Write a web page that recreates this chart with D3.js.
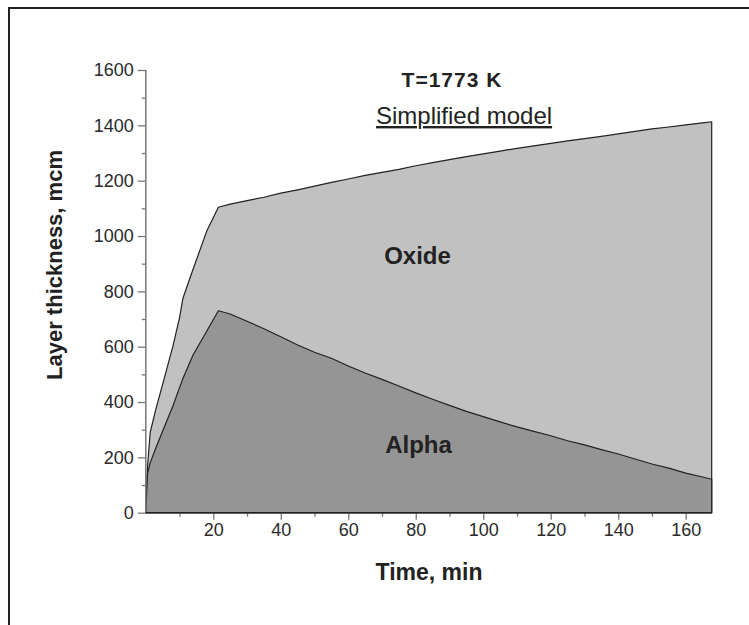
<!DOCTYPE html>
<html>
<head>
<meta charset="utf-8">
<script src="https://cdn.jsdelivr.net/npm/d3@7"></script>
<style>
  html, body { margin: 0; padding: 0; background: #fff; }
  svg { display: block; font-family: "Liberation Sans", Arial, sans-serif; }
</style>
</head>
<body>
<svg id="chart" width="749" height="625"></svg>
<script>
// ---- data ----
const timeMin = [0, 0.5, 1.3, 3, 5, 8, 10, 11, 14, 18, 21.5, 25, 30, 35, 40, 45, 50, 55, 60, 65, 70, 75, 80, 85, 90, 95, 100, 105, 110, 115, 120, 125, 130, 135, 140, 145, 150, 155, 160, 165, 167.7];
const totalThickness = [0, 165, 290, 375, 465, 600, 705, 775, 880, 1016, 1104, 1115, 1128, 1140, 1155, 1167, 1180, 1194, 1206, 1219, 1230, 1241, 1254, 1265, 1276, 1287, 1297, 1307, 1317, 1326, 1335, 1344, 1352, 1360, 1369, 1378, 1387, 1394, 1402, 1409, 1413];
const alphaThickness = [0, 140, 180, 235, 295, 385, 452, 485, 570, 655, 730, 718, 692, 665, 636, 606, 580, 558, 530, 505, 482, 458, 433, 410, 388, 366, 347, 328, 310, 294, 278, 260, 245, 228, 212, 194, 176, 161, 143, 129, 121];
const xTicks = [20, 40, 60, 80, 100, 120, 140, 160];
const yTicks = [0, 200, 400, 600, 800, 1000, 1200, 1400, 1600];
const titleText = "T=1773 K";
const subtitleText = "Simplified model";
const regionLabels = ["Oxide", "Alpha"];
const xLabel = "Time, min";
const yLabel = "Layer thickness, mcm";

// ---- layout ----
const svg = d3.select("#chart");
const x = d3.scaleLinear().domain([0, 167.7]).range([145.8, 711.7]);
const y = d3.scaleLinear().domain([0, 1600]).range([512.7, 70]);
const ink = "#222";

// frame (top and left visible)
svg.append("path").attr("d", "M9,625V8H749").attr("fill", "none").attr("stroke", ink).attr("stroke-width", 2);

const rows = timeMin.map((t, i) => ({ t, total: totalThickness[i], alpha: alphaThickness[i] }));

const areaTotal = d3.area().x(d => x(d.t)).y0(y(0)).y1(d => y(d.total));
const areaAlpha = d3.area().x(d => x(d.t)).y0(y(0)).y1(d => y(d.alpha));

svg.append("path").datum(rows).attr("d", areaTotal)
  .attr("fill", "#c1c1c1").attr("stroke", ink).attr("stroke-width", 1.2).attr("stroke-linejoin", "round");
svg.append("path").datum(rows).attr("d", areaAlpha)
  .attr("fill", "#959595").attr("stroke", ink).attr("stroke-width", 1.2).attr("stroke-linejoin", "round");

// axes
const axisColor = "#777";
const yAxis = d3.axisLeft(y).tickValues(yTicks).tickSize(8).tickPadding(4).tickFormat(d3.format("d"));
const yMinor = d3.axisLeft(y).tickValues(d3.range(100, 1600, 200)).tickSize(4).tickFormat("");
const xAxis = d3.axisBottom(x).tickValues(xTicks).tickSize(7).tickPadding(4).tickFormat(d3.format("d"));
const xMinor = d3.axisBottom(x).tickValues(d3.range(10, 170, 20)).tickSize(4).tickFormat("");

function styleAxis(g) {
  g.select(".domain").remove();
  g.selectAll(".tick line").attr("stroke", axisColor).attr("stroke-width", 1.3);
  g.selectAll(".tick text").attr("fill", "#2a2a2a").attr("font-size", 18)
    .attr("font-family", "'Liberation Sans', Arial, sans-serif");
}
svg.append("g").attr("transform", `translate(${x(0)},0)`).call(yAxis).call(styleAxis);
svg.append("g").attr("transform", `translate(${x(0)},0)`).call(yMinor).call(styleAxis);
svg.append("g").attr("transform", `translate(0,${y(0)})`).call(xAxis).call(styleAxis);
svg.append("g").attr("transform", `translate(0,${y(0)})`).call(xMinor).call(styleAxis);

// axis lines
svg.append("line").attr("x1", x(0)).attr("x2", x(0)).attr("y1", y(0)).attr("y2", y(1600))
  .attr("stroke", axisColor).attr("stroke-width", 1.5);
svg.append("line").attr("x1", x(0)).attr("x2", x(167.7)).attr("y1", y(0)).attr("y2", y(0))
  .attr("stroke", ink).attr("stroke-width", 1.5);

// texts
svg.append("text").attr("x", 452).attr("y", 87).attr("text-anchor", "middle")
  .attr("font-size", 21).attr("font-weight", "bold").attr("letter-spacing", 1).attr("fill", ink).text(titleText);
svg.append("text").attr("x", 376).attr("y", 124)
  .attr("font-size", 24).attr("fill", ink).attr("text-decoration", "underline").text(subtitleText);
svg.append("text").attr("x", 417.5).attr("y", 264).attr("text-anchor", "middle")
  .attr("font-size", 24).attr("font-weight", "bold").attr("fill", ink).text(regionLabels[0]);
svg.append("text").attr("x", 418.5).attr("y", 453).attr("text-anchor", "middle")
  .attr("font-size", 24).attr("font-weight", "bold").attr("fill", ink).text(regionLabels[1]);
svg.append("text").attr("x", 429).attr("y", 580).attr("text-anchor", "middle")
  .attr("font-size", 23).attr("font-weight", "bold").attr("fill", ink).text(xLabel);
svg.append("text").attr("transform", "translate(62,265) rotate(-90)").attr("text-anchor", "middle")
  .attr("font-size", 22).attr("font-weight", "bold").attr("fill", ink).text(yLabel);
</script>
</body>
</html>
